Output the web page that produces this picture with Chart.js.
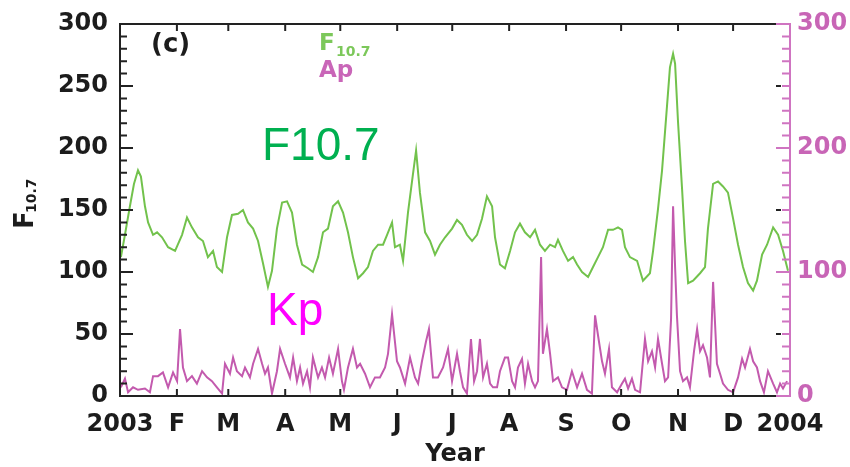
<!DOCTYPE html>
<html lang="en">
<head>
<meta charset="UTF-8">
<title>F10.7 and Ap, 2003</title>
<script src="https://cdn.jsdelivr.net/npm/chart.js"></script>
<style>
  body { margin: 0; background: #fff; }
  canvas { display: block; }
</style>
</head>
<body>
<canvas id="chart" width="850" height="467"></canvas>
<script>
// month starts (day of year 2003) and their labels
const monthDays = [0, 31, 59, 90, 120, 151, 181, 212, 243, 273, 304, 334, 365];
const monthLabels = ['2003', 'F', 'M', 'A', 'M', 'J', 'J', 'A', 'S', 'O', 'N', 'D', '2004'];

// F10.7 solar flux (day of year, sfu)
const fDays = [
  0.5, 2.7, 5.4, 7.6, 9.8, 11.4, 13.6, 15.3, 18.0, 20.2,
  22.9, 26.2, 30.0, 33.8, 36.5, 39.2, 42.5, 45.2, 47.9, 50.7,
  52.8, 55.6, 58.3, 61.0, 64.3, 67.0, 69.7, 72.5, 75.2, 77.9,
  80.6, 82.8, 85.5, 88.3, 91.0, 93.7, 96.4, 99.2, 102.4, 105.1,
  107.9, 110.6, 113.3, 116.0, 118.8, 121.5, 124.2, 126.9, 129.7, 132.4,
  135.1, 137.8, 140.6, 143.3, 145.5, 148.2, 149.8, 152.5, 154.2, 156.9,
  159.6, 161.3, 163.4, 166.2, 168.9, 171.6, 174.3, 177.1, 180.9, 183.6,
  186.3, 189.0, 191.8, 194.5, 197.2, 199.9, 202.7, 204.3, 207.0, 209.7,
  212.5, 215.2, 217.9, 220.6, 223.4, 226.1, 228.8, 231.5, 234.3, 237.0,
  238.6, 241.3, 244.1, 246.8, 249.0, 251.7, 255.0, 257.7, 260.4, 263.1,
  265.9, 268.6, 271.3, 273.5, 275.1, 277.8, 281.7, 284.9, 288.7, 290.4,
  293.1, 295.3, 298.0, 299.6, 301.3, 302.4, 304.0, 306.2, 307.8, 309.5,
  312.2, 316.0, 318.7, 320.3, 323.1, 325.8, 328.5, 331.2, 334.0, 336.7,
  339.4, 342.1, 344.9, 347.0, 349.8, 352.5, 355.8, 358.5, 361.2, 363.9
];
const fVals = [
  112, 130, 153, 171, 182, 177, 153, 140, 130, 132,
  128, 120, 117, 130, 144, 136, 128, 125, 112, 117,
  104, 100, 128, 146, 147, 150, 140, 135, 125, 107,
  88, 101, 135, 156, 157, 148, 122, 106, 103, 100,
  112, 132, 135, 153, 157, 148, 132, 112, 95, 99,
  104, 117, 122, 122, 130, 140, 120, 122, 109, 148,
  179, 198, 164, 132, 125, 114, 122, 128, 135, 142,
  138, 130, 125, 130, 143, 161, 153, 128, 106, 103,
  117, 132, 139, 132, 128, 134, 122, 117, 122, 120,
  126, 117, 109, 112, 106, 100, 96, 104, 112, 120,
  134, 134, 136, 134, 120, 112, 109, 93, 99, 117,
  151, 182, 234, 265, 276, 268, 221, 167, 125, 91,
  93, 99, 104, 135, 171, 173, 169, 164, 143, 122,
  104, 91, 85, 93, 114, 122, 136, 130, 117, 101
];

// Ap index (day of year, value)
const apDays = [
  0.5, 2.7, 4.4, 7.1, 9.8, 13.6, 16.3, 18.0, 20.7, 23.4,
  26.2, 28.9, 31.1, 32.7, 34.3, 36.5, 39.2, 41.9, 44.7, 47.4,
  50.1, 52.8, 55.6, 57.2, 59.9, 61.6, 63.7, 66.5, 68.1, 70.8,
  72.5, 75.2, 77.4, 79.0, 80.6, 82.8, 85.5, 87.2, 89.9, 92.6,
  94.3, 96.4, 98.1, 99.7, 101.9, 103.5, 105.1, 107.9, 110.0, 111.7,
  113.9, 116.0, 118.8, 120.9, 122.0, 124.2, 126.9, 129.1, 130.8, 133.5,
  136.2, 138.9, 141.6, 144.4, 146.0, 148.2, 150.9, 152.5, 155.3, 158.0,
  160.7, 162.4, 164.5, 166.7, 168.3, 170.5, 173.2, 176.0, 178.7, 180.9,
  183.6, 185.2, 186.9, 189.0, 191.2, 192.9, 194.5, 196.1, 197.8, 199.9,
  201.6, 203.2, 205.4, 207.0, 209.7, 211.4, 213.6, 215.2, 216.8, 219.0,
  220.6, 222.3, 224.5, 226.1, 227.7, 229.4, 230.4, 232.6, 234.3, 235.9,
  238.6, 240.8, 243.5, 246.2, 249.0, 251.7, 254.4, 257.1, 258.8, 260.4,
  262.6, 264.2, 266.4, 268.0, 270.8, 273.5, 275.1, 276.8, 278.9, 280.6,
  283.3, 286.0, 287.7, 289.8, 291.5, 293.1, 295.3, 296.9, 298.6, 300.2,
  301.3, 302.4, 303.4, 305.1, 306.7, 308.9, 310.5, 312.7, 314.4, 316.0,
  317.6, 319.8, 321.4, 323.1, 325.2, 326.9, 328.5, 331.2, 334.0, 336.7,
  338.9, 340.5, 343.2, 344.9, 347.0, 348.7, 350.8, 353.0, 355.8, 357.9,
  359.6, 361.2, 363.4
];
const apVals = [
  7, 14, 3, 7, 5, 6, 3, 16, 16, 19,
  7, 19, 12, 54, 23, 12, 16, 10, 20, 15,
  12, 7, 2, 26, 18, 31, 20, 16, 23, 15,
  26, 38, 26, 18, 23, 2, 20, 38, 26, 15,
  31, 12, 23, 10, 20, 7, 31, 15, 23, 15,
  31, 18, 38, 12, 5, 23, 38, 23, 26, 18,
  7, 15, 15, 23, 34, 66, 28, 23, 10, 31,
  15, 10, 28, 44, 54, 15, 15, 23, 38, 12,
  34, 20, 7, 2, 46, 12, 20, 46, 15, 26,
  10, 7, 7, 20, 31, 31, 12, 7, 23, 30,
  10, 26, 12, 7, 12, 112, 34, 54, 34, 12,
  15, 7, 5, 20, 7, 18, 5, 2, 65, 49,
  28, 18, 38, 7, 3, 10, 14, 6, 14, 5,
  3, 46, 28, 36, 23, 46, 26, 12, 15, 62,
  153, 104, 65, 20, 12, 15, 7, 36, 54, 36,
  41, 31, 15, 92, 26, 18, 10, 5, 3, 15,
  30, 23, 38, 28, 23, 12, 3, 20, 10, 3,
  10, 6, 12
];

const green = '#72c24c';
const pink = '#c35aae';
const pinkAxis = '#cf74c1';
const ink = '#1c1c1c';
const tickFont = { family: 'DejaVu Sans', size: 24, weight: 'bold', lineHeight: 1 };

// axis box, IDL style ticks
const frame = {
  id: 'frame',
  afterDatasetsDraw(chart) {
    const { ctx, chartArea: a, scales } = chart;
    const xs = scales.x, ys = scales.y;
    const blackRight = a.right - 14;
    ctx.save();
    ctx.lineWidth = 2;
    ctx.lineCap = 'butt';

    ctx.strokeStyle = pinkAxis;
    ctx.beginPath();
    ctx.moveTo(blackRight, a.top); ctx.lineTo(a.right, a.top);
    ctx.lineTo(a.right, a.bottom); ctx.lineTo(blackRight, a.bottom);
    for (let v = 0; v <= 300; v += 10) {
      const py = scales.y2.getPixelForValue(v);
      ctx.moveTo(a.right, py);
      ctx.lineTo(a.right - (v % 100 ? 8 : 14), py);
    }
    ctx.stroke();

    ctx.strokeStyle = '#222';
    ctx.beginPath();
    ctx.moveTo(blackRight, a.top); ctx.lineTo(a.left, a.top);
    ctx.lineTo(a.left, a.bottom); ctx.lineTo(blackRight, a.bottom);
    for (let v = 0; v <= 300; v += 10) {
      const py = ys.getPixelForValue(v);
      ctx.moveTo(a.left, py);
      ctx.lineTo(a.left + (v % 50 ? 7 : 13), py);
    }
    monthDays.slice(1, -1).forEach(d => {
      const px = xs.getPixelForValue(d);
      ctx.moveTo(px, a.top); ctx.lineTo(px, a.top + 7);
      ctx.moveTo(px, a.bottom); ctx.lineTo(px, a.bottom - 7);
    });
    [50, 150, 250].forEach(v => {
      const py = ys.getPixelForValue(v);
      ctx.moveTo(blackRight, py); ctx.lineTo(blackRight + 5, py);
    });
    ctx.stroke();
    ctx.restore();
  },
  afterDraw(chart) {
    const { ctx } = chart;
    ctx.save();
    ctx.textBaseline = 'alphabetic';
    ctx.textAlign = 'left';

    // y title F with subscript 10.7
    ctx.save();
    ctx.translate(33, 229);
    ctx.rotate(-Math.PI / 2);
    ctx.fillStyle = ink;
    ctx.font = 'bold 26px "DejaVu Sans"';
    ctx.fillText('F', 0, 0);
    ctx.font = 'bold 14px "DejaVu Sans"';
    ctx.fillText('10.7', 16, 3);
    ctx.restore();

    ctx.fillStyle = ink;
    ctx.font = 'bold 26px "DejaVu Sans"';
    ctx.fillText('(c)', 151, 52);

    ctx.fillStyle = '#7cc85a';
    ctx.font = 'bold 23px "DejaVu Sans"';
    ctx.fillText('F', 319, 50);
    ctx.font = 'bold 14px "DejaVu Sans"';
    ctx.fillText('10.7', 336, 56);
    ctx.fillStyle = '#c966b8';
    ctx.font = 'bold 23px "DejaVu Sans"';
    ctx.fillText('Ap', 319, 77);

    ctx.fillStyle = '#00b050';
    ctx.font = '46px "Liberation Sans"';
    ctx.fillText('F10.7', 262, 160);
    ctx.fillStyle = '#ff00ff';
    ctx.fillText('Kp', 267, 325);
    ctx.restore();
  }
};

new Chart(document.getElementById('chart'), {
  type: 'line',
  data: {
    datasets: [
      {
        label: 'F10.7',
        data: fDays.map((d, i) => ({ x: d, y: fVals[i] })),
        borderColor: green, borderWidth: 2, pointRadius: 0, tension: 0, yAxisID: 'y'
      },
      {
        label: 'Ap',
        data: apDays.map((d, i) => ({ x: d, y: apVals[i] })),
        borderColor: pink, borderWidth: 2, pointRadius: 0, tension: 0, yAxisID: 'y2'
      }
    ]
  },
  options: {
    responsive: false,
    animation: false,
    devicePixelRatio: 1,
    layout: { padding: { top: 13, left: 0, right: 0, bottom: 0 } },
    plugins: { legend: { display: false }, tooltip: { enabled: false } },
    scales: {
      x: {
        type: 'linear', min: 0, max: 365,
        grid: { display: false, drawTicks: false }, border: { display: false },
        afterBuildTicks: s => { s.ticks = monthDays.map(v => ({ value: v })); },
        afterFit: s => { s.height = 71; },
        ticks: {
          autoSkip: false, maxRotation: 0, padding: 17, color: ink, font: tickFont,
          callback: v => monthLabels[monthDays.indexOf(v)]
        },
        title: {
          display: true, text: 'Year', color: ink, padding: 0,
          font: { family: 'DejaVu Sans', size: 24, weight: 'bold', lineHeight: 1 }
        }
      },
      y: {
        position: 'left', min: 0, max: 300,
        grid: { display: false, drawTicks: false }, border: { display: false },
        afterFit: s => { s.width = 120; },
        ticks: { stepSize: 50, padding: 12, color: ink, font: tickFont }
      },
      y2: {
        position: 'right', min: 0, max: 300,
        grid: { display: false, drawTicks: false }, border: { display: false },
        afterFit: s => { s.width = 60; },
        ticks: { stepSize: 100, padding: 7, color: '#c865b6', font: tickFont }
      }
    }
  },
  plugins: [frame]
});
</script>
</body>
</html>
